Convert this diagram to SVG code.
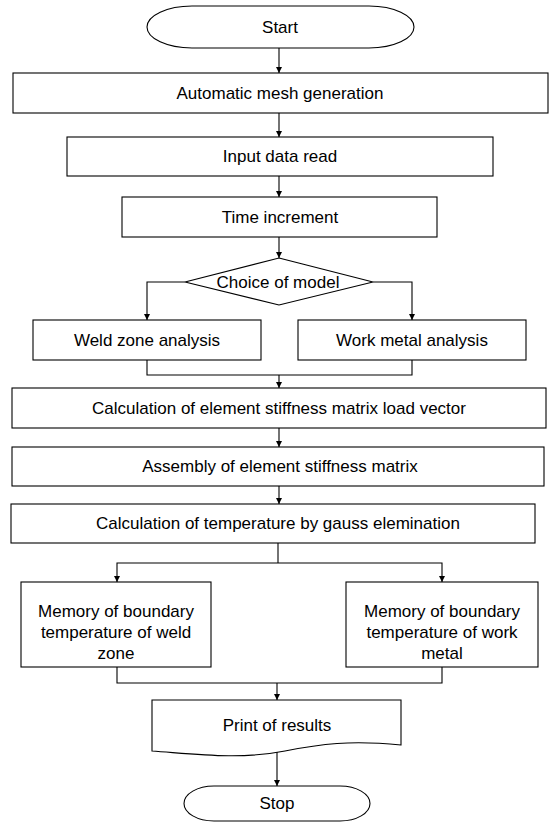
<svg xmlns="http://www.w3.org/2000/svg" width="552" height="825" viewBox="0 0 552 825">
<style>
.box{fill:#fff;stroke:#000;stroke-width:1.1}
.t{font-family:"Liberation Sans",Arial,sans-serif;font-size:17px;fill:#000;text-anchor:middle;dominant-baseline:central}
.c{fill:none;stroke:#000;stroke-width:1.1}
</style>
<defs>
<marker id="ah" markerWidth="6" markerHeight="6" refX="6" refY="3" orient="auto" markerUnits="userSpaceOnUse">
<path d="M0,0 L6,3 L0,6 Z" fill="#000"/>
</marker>
</defs>
<rect width="552" height="825" fill="#fff"/>
<g id="start"><rect class="box" x="147" y="6" width="267" height="42" rx="45" ry="21"/><text class="t" x="280" y="27">Start</text></g>
<g id="mesh"><rect class="box" x="13" y="73" width="535" height="40"/><text class="t" x="280" y="93">Automatic mesh generation</text></g>
<g id="input"><rect class="box" x="67" y="137" width="426" height="39"/><text class="t" x="280" y="156.5">Input data read</text></g>
<g id="time"><rect class="box" x="122" y="197" width="315" height="40"/><text class="t" x="280" y="217">Time increment</text></g>
<g id="choice"><polygon class="box" points="279,258 373,282 279,305 185,282"/><text class="t" x="278" y="282">Choice of model</text></g>
<g id="weld"><rect class="box" x="33" y="320" width="228" height="40"/><text class="t" x="147" y="340">Weld zone analysis</text></g>
<g id="work"><rect class="box" x="298" y="320" width="228" height="40"/><text class="t" x="412" y="340">Work metal analysis</text></g>
<g id="calc1"><rect class="box" x="12" y="388" width="534" height="40"/><text class="t" x="279" y="408">Calculation of element stiffness matrix load vector</text></g>
<g id="assembly"><rect class="box" x="12" y="447" width="532" height="39"/><text class="t" x="280" y="466.5">Assembly of element stiffness matrix</text></g>
<g id="calc2"><rect class="box" x="11" y="504" width="524" height="39"/><text class="t" x="278" y="523.5">Calculation of temperature by gauss elemination</text></g>
<g id="memL"><rect class="box" x="21" y="582" width="190" height="85"/><text class="t" x="116" y="611">Memory of boundary</text><text class="t" x="116" y="632">temperature of weld</text><text class="t" x="116" y="653">zone</text></g>
<g id="memR"><rect class="box" x="346" y="582" width="192" height="85"/><text class="t" x="442" y="611">Memory of boundary</text><text class="t" x="442" y="632">temperature of work</text><text class="t" x="442" y="653">metal</text></g>
<g id="print"><path class="box" d="M152,700 H401 V745 C350,740 320,744 285,751 C240,760 195,754 152,751 Z"/><text class="t" x="277" y="725">Print of results</text></g>
<g id="stop"><rect class="box" x="184" y="786" width="186" height="35" rx="30" ry="17.5"/><text class="t" x="277" y="803.5">Stop</text></g>
<g id="connectors">
<path class="c" d="M279,48 V73" marker-end="url(#ah)"/>
<path class="c" d="M279,113 V137" marker-end="url(#ah)"/>
<path class="c" d="M279,176 V197" marker-end="url(#ah)"/>
<path class="c" d="M279,237 V258" marker-end="url(#ah)"/>
<path class="c" d="M185,282 H147 V320" marker-end="url(#ah)"/>
<path class="c" d="M373,282 H412 V320" marker-end="url(#ah)"/>
<path class="c" d="M147,360 V375 H412 V360"/>
<path class="c" d="M279,375 V388" marker-end="url(#ah)"/>
<path class="c" d="M279,428 V447" marker-end="url(#ah)"/>
<path class="c" d="M279,486 V504" marker-end="url(#ah)"/>
<path class="c" d="M278,543 V563"/>
<path class="c" d="M278,563 H117 V582" marker-end="url(#ah)"/>
<path class="c" d="M278,563 H442 V582" marker-end="url(#ah)"/>
<path class="c" d="M117,667 V683 H442 V667"/>
<path class="c" d="M277,683 V700" marker-end="url(#ah)"/>
<path class="c" d="M277,752 V786" marker-end="url(#ah)"/>
</g>
</svg>
